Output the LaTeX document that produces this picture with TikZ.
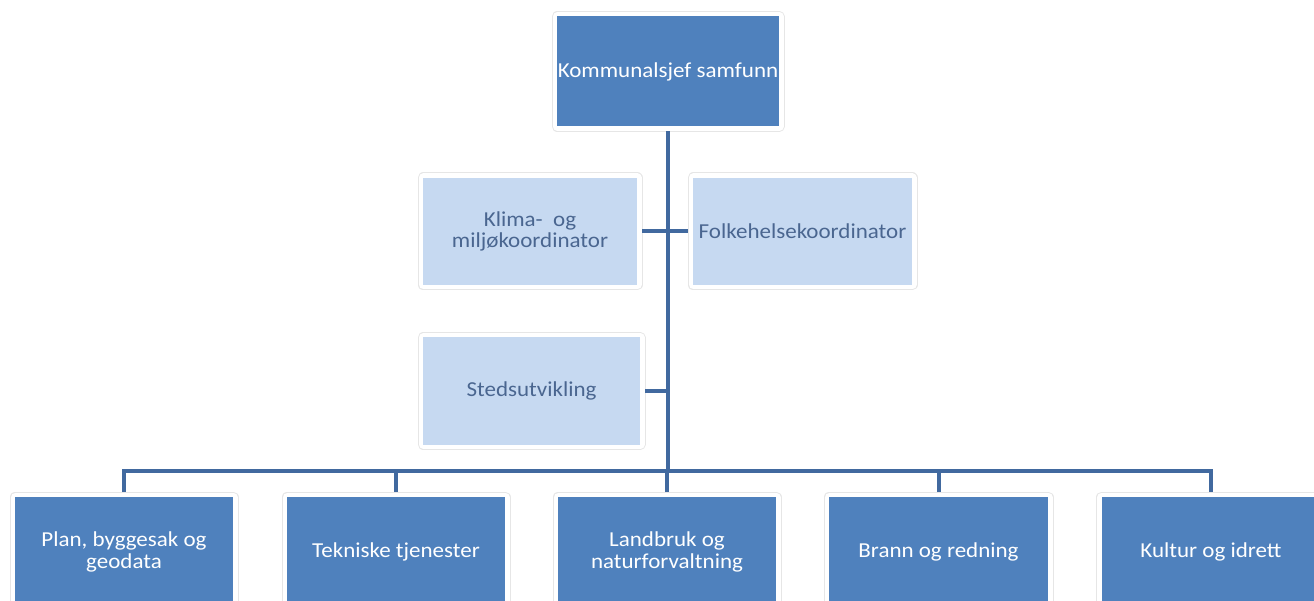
\documentclass[tikz,border=0pt]{standalone}
\usepackage{fontspec}
\setmainfont{Carlito}[FakeStretch=1.08]
\definecolor{dk}{HTML}{4F81BD}
\definecolor{lt}{HTML}{C6D9F1}
\definecolor{lnc}{HTML}{41699F}
\definecolor{lttext}{HTML}{4A6690}
\definecolor{framec}{HTML}{E6E6E6}
\begin{document}
\begin{tikzpicture}[x=1pt,y=-1pt,
  box/.style={rectangle, inner sep=0pt, outer sep=5pt, align=center,
    font=\fontsize{21.3}{21.5}\selectfont,
    preaction={draw=framec, line width=11pt, line join=round},
    preaction={draw=white, line width=9pt, line join=round}},
  darkbox/.style={box, fill=dk, text=white},
  lightbox/.style={box, fill=lt, text=lttext},
  conn/.style={draw=lnc, line width=4pt}]
\useasboundingbox (0,0) rectangle (1314,601);
\node[darkbox, minimum width=222, minimum height=110] (top) at (668,71.5) {Kommunalsjef samfunn};
\node[lightbox, minimum width=214, minimum height=107] (klima) at (530,231.5) {Klima-\ \ og\\miljøkoordinator};
\node[lightbox, minimum width=219, minimum height=107] (folke) at (802.5,231.5) {Folkehelsekoordinator};
\node[lightbox, minimum width=217, minimum height=107] (sted) at (531.5,391) {Stedsutvikling};
\node[darkbox, minimum width=218, minimum height=110] (p1) at (124,552) {Plan, byggesak og\\geodata};
\node[darkbox, minimum width=218, minimum height=110] (p2) at (396,552) {Tekniske tjenester};
\node[darkbox, minimum width=218, minimum height=110] (p3) at (667,552) {Landbruk og\\naturforvaltning};
\node[darkbox, minimum width=219, minimum height=110] (p4) at (938.5,552) {Brann og redning};
\node[darkbox, minimum width=219, minimum height=110] (p5) at (1211,552) {Kultur og idrett};
\coordinate (bus) at (668,471);
\draw[conn] (top.south) -- (top.south |- bus);
\draw[conn] (p1.north) -- (p1.north |- bus) -- (p5.north |- bus) -- (p5.north);
\draw[conn] (p2.north) -- (p2.north |- bus);
\draw[conn] (p3.north) -- (p3.north |- bus);
\draw[conn] (p4.north) -- (p4.north |- bus);
\draw[conn] (klima.east) -- (folke.west);
\draw[conn] (sted.east) -- (sted.east -| top.south);
\end{tikzpicture}
\end{document}
